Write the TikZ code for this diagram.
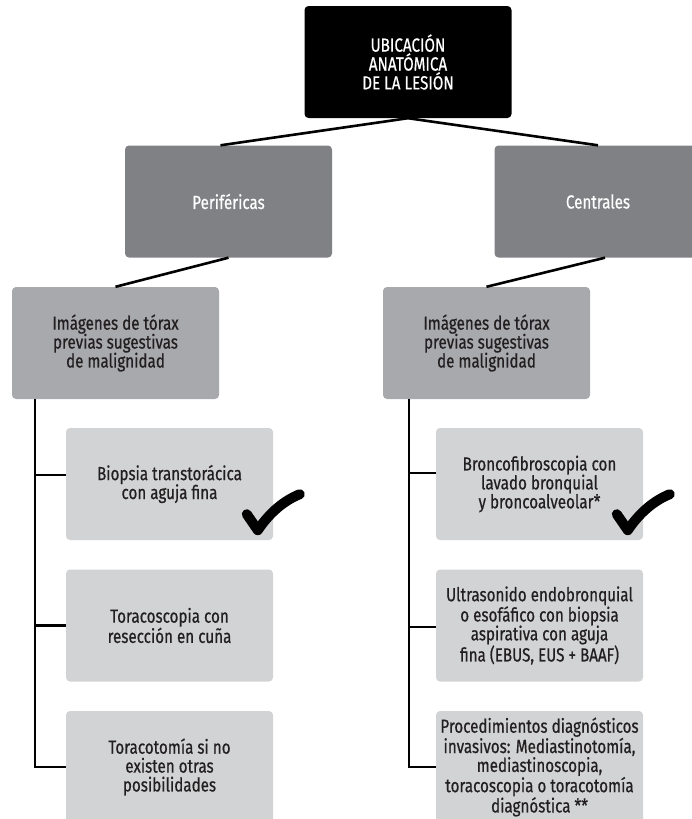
\documentclass[tikz,border=0pt]{standalone}
\usepackage{fontspec}
\setmainfont{Fira Sans}[FakeStretch=0.8, FakeBold=0.6]
\usetikzlibrary{calc}

\definecolor{rootfill}{HTML}{000000}
\definecolor{secondfill}{HTML}{808184}
\definecolor{thirdfill}{HTML}{A7A9AC}
\definecolor{leaffill}{HTML}{D1D3D4}
\definecolor{ink}{HTML}{231F20}

\tikzset{
  x=1pt, y=-1pt,
  card/.style={rectangle, rounded corners=4pt, minimum width=207pt,
    minimum height=112pt, inner sep=0pt, align=center,
    font=\fontsize{19}{18.9}\selectfont},
  rootcard/.style={card, fill=rootfill, text=white},
  sidecard/.style={card, fill=secondfill, text=white},
  imgcard/.style={card, fill=thirdfill, text=ink},
  leafcard/.style={card, fill=leaffill, text=ink},
  link/.style={draw=black, line width=2.6pt},
  tick/.pic={
    \draw[line width=10pt, line cap=round, line join=round]
      (-11,-16) -- (0,0) .. controls (12,-18) and (27,-30) .. (42,-36);
  }
}

\begin{document}
\begin{tikzpicture}
\useasboundingbox (0,0) rectangle (692,819);
\clip (0,0) rectangle (692,819);

% root and the two locations
\node[rootcard] (root) at (408,62) {UBICACIÓN\\ANATÓMICA\\DE LA LESIÓN};
\node[sidecard] (per) at (228.5,201.5) {Periféricas};
\node[sidecard] (cen) at (598,201.5) {Centrales};

% imaging boxes
\node[imgcard] (limg) at (115.5,343) {Imágenes de tórax\\previas sugestivas\\de malignidad};
\node[imgcard] (rimg) at (486.5,343) {Imágenes de tórax\\previas sugestivas\\de malignidad};

% peripheral procedures
\node[leafcard] (lc1) at (169.5,484) {Biopsia transtorácica\\con aguja fina};
\node[leafcard] (lc2) at (169.5,625.5) {Toracoscopia con\\resección en cuña};
\node[leafcard] (lc3) at (169.5,767) {Toracotomía si no\\existen otras\\posibilidades};

% central procedures
\node[leafcard] (rc1) at (539.5,484) {Broncofibroscopia con\\lavado bronquial\\y broncoalveolar*};
\node[leafcard] (rc2) at (539.5,625.5) {Ultrasonido endobronquial\\o esofáfico con biopsia\\aspirativa con aguja\\fina (EBUS, EUS + BAAF)};
\node[leafcard] (rc3) at (539.5,767) {Procedimientos diagnósticos\\invasivos: Mediastinotomía,\\mediastinoscopia,\\toracoscopia o toracotomía\\diagnóstica **};

% tree connectors
\draw[link] (root.south) -- ([xshift=-8pt]per.north);
\draw[link] (root.south) -- (cen.north);
\draw[link] (per.south) -- (limg.north);
\draw[link] ([xshift=7pt]cen.south) -- (rimg.north);

% left trunk
\coordinate (ltop) at ($(limg.south west)+(23,0)$);
\coordinate (lb1) at ($(lc1.west)+(0,-9)$);
\draw[link] (ltop) |- (lc3.west);
\draw[link] (ltop |- lb1) -- (lb1);
\draw[link] (ltop |- lc2.west) -- (lc2.west);

% right trunk
\coordinate (rtop) at ($(rimg.south west)+(26,0)$);
\coordinate (rb1) at ($(rc1.west)+(0,-11)$);
\coordinate (rb2) at ($(rc2.west)+(0,1.5)$);
\draw[link] (rtop) |- (rc3.west);
\draw[link] (rtop |- rb1) -- (rb1);
\draw[link] (rtop |- rb2) -- (rb2);

% check marks
\pic at ($(lc1.south west)+(192,-10)$) {tick};
\pic at ($(rc1.south west)+(192,-10)$) {tick};
\end{tikzpicture}
\end{document}
